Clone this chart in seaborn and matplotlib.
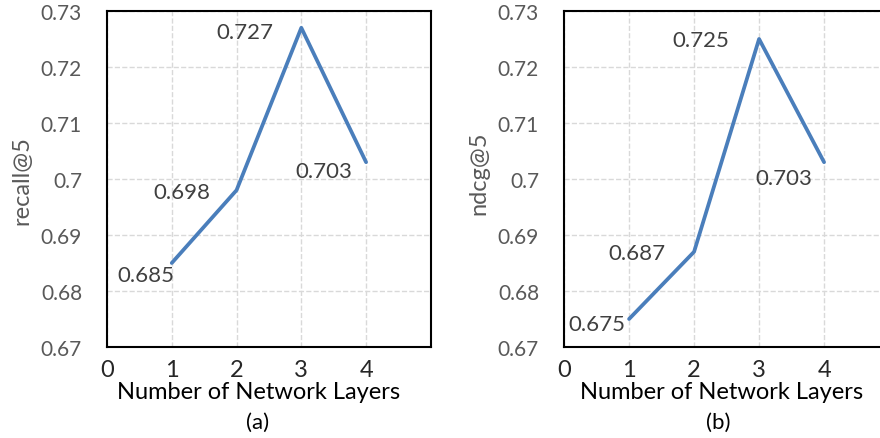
import seaborn as sns
import matplotlib.pyplot as plt
import pandas as pd

# data
layers = [1, 2, 3, 4]
recall5 = [0.685, 0.698, 0.727, 0.703]
ndcg5 = [0.675, 0.687, 0.725, 0.703]
recall_labels = ["0.685", "0.698", "0.727", "0.703"]
ndcg_labels = ["0.675", "0.687", "0.725", "0.703"]

sns.set_style("white")
plt.rcParams['font.family'] = ['Lato', 'DejaVu Sans']

blue = '#4A7EBB'
gray = '#595959'

fig = plt.figure(figsize=(8.8, 4.39), dpi=100)
ax1 = fig.add_axes([0.1216, 0.2073, 0.368, 0.7654])
ax2 = fig.add_axes([0.641, 0.2073, 0.3693, 0.7654])

panels = [
    (ax1, recall5, recall_labels, 'recall@5', '(a)',
     [(-26, 12), (-55, 2), (-56, 4), (-42, 9)], 0.469, 0.466, 0.497),
    (ax2, ndcg5, ndcg_labels, 'ndcg@5', '(b)',
     [(-32, 5), (-57, 1), (-58, 1), (-40, 16)], 0.485, 0.474, 0.52),
]

for ax, vals, labs, ylab, tag, offs, xl_x, tag_x, yl_y in panels:
    df = pd.DataFrame({'layers': layers, 'value': vals})
    sns.lineplot(data=df, x='layers', y='value', ax=ax, color=blue, lw=2.7)
    ax.set_xlim(0, 5)
    ax.set_ylim(0.67, 0.73)
    ax.set_xticks([0, 1, 2, 3, 4])
    ax.set_xticklabels(['0', '1', '2', '3', '4'])
    ax.set_yticks([0.67, 0.68, 0.69, 0.70, 0.71, 0.72, 0.73])
    ax.set_yticklabels(['0.67', '0.68', '0.69', '0.7', '0.71', '0.72', '0.73'])
    ax.tick_params(axis='both', length=0, labelcolor=gray)
    ax.tick_params(axis='y', pad=18, labelsize=15)
    ax.tick_params(axis='x', pad=9, labelsize=17, labelcolor='#262626')
    ax.grid(True, color='#D9D9D9', ls='--', lw=1)
    for s in ax.spines.values():
        s.set_color('black')
        s.set_linewidth(1.5)
    for x, v, t, (dx, dy) in zip(layers, vals, labs, offs):
        ax.annotate(t, (x, v), xytext=(dx * 0.72, -dy * 0.72),
                    textcoords='offset points', ha='center', va='center',
                    fontsize=16, color='#404040')
    ax.set_xlabel('Number of Network Layers', fontsize=17, color='black')
    ax.xaxis.set_label_coords(xl_x, -0.131)
    ax.xaxis.label.set_va('center')
    ax.set_ylabel(ylab, fontsize=17, color=gray)
    ax.yaxis.set_label_coords(-0.262, yl_y)
    ax.yaxis.label.set_va('center')
    ax.text(tag_x, -0.223, tag, transform=ax.transAxes, ha='center', va='center',
            fontsize=16, color='black')

fig.savefig('out.png', dpi=100)
